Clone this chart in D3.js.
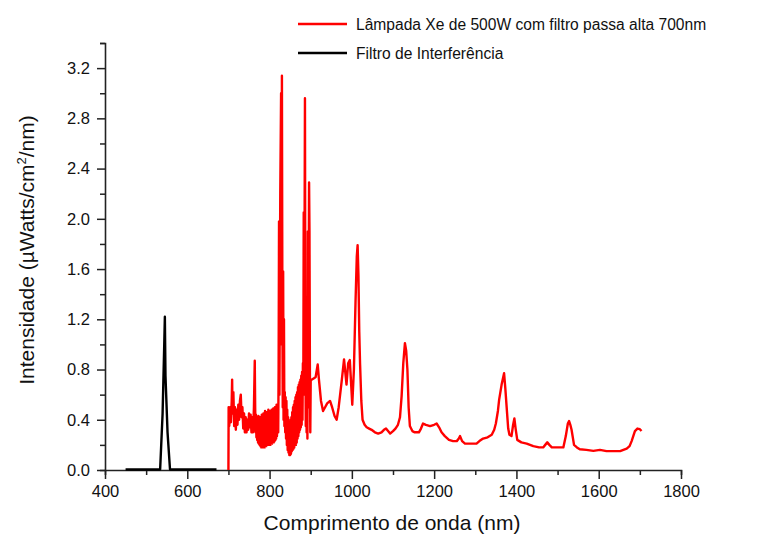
<!DOCTYPE html>
<html><head><meta charset="utf-8">
<script src="https://cdn.jsdelivr.net/npm/d3@7"></script>
<style>body{margin:0;background:#fff}svg{display:block;font-family:"Liberation Sans",Arial,sans-serif}</style>
</head><body>
<svg id="c" width="771" height="535"></svg>
<script>
const xTicks = [400, 600, 800, 1000, 1200, 1400, 1600, 1800];
const yTicks = [0.0, 0.4, 0.8, 1.2, 1.6, 2.0, 2.4, 2.8, 3.2];
const seriesNames = ["Lâmpada Xe de 500W com filtro passa alta 700nm", "Filtro de Interferência"];

const redNm = [
700,700.5,702,704,706,708,709,710,712,714,716,718,720,722,724,726,728,730,732,734,736,738,740,742,744,746,748,750,752,754,756,758,760,762,764,765,
766,767,768,769,770,771,772,773,774,775,776,777,778,779,780,781,782,783,784,785,786,787,788,789,790,791,792,793,794,795,796,797,798,799,800,801,802,803,804,805,806,807,808,809,810,811,812,813,814,815,816,817,818,819,820,
821,822,823,824,826,828,829,830,831,832,833,834,835,
836,837,838,839,840,841,842,843,844,845,846,847,848,849,850,851,852,853,854,855,856,857,858,859,860,861,862,863,864,865,866,867,868,869,870,871,872,873,874,875,876,877,878,879,880,881,882,
883,884,886,887,888,889,890,891,892,893,894,896,897,898,899,900,
903,908,912,917,920,925,930,935,940,947,952,958,963,968,975,981,984,987,991,995,998,1001,1005,1009,1012,1014,1016,1018,1020,1023,1026,1031,1036,1042,1048,1056,1064,1072,1078,1083,1088,1093,1100,1106,1112,1117,1121,1125,1129,1132,1135,1138,1141,1147,1153,1163,1168,1173,1180,1190,1200,1206,1212,1218,1226,1236,1246,1255,1260,1263,1268,1275,1290,1303,1310,1319,1330,1340,1346,1350,1355,1358,1364,1370,1373,1376,1380,1383,1388,1392,1395,1398,1402,1412,1425,1441,1455,1465,1470,1475,1480,1486,1500,1514,1520,1525,1528,1531,1534,1540,1547,1554,1570,1587,1603,1619,1640,1652,1668,1675,1680,1688,1694,1700,1704];
const redVal = [
0,0.5,0.35,0.5,0.38,0.55,0.72,0.45,0.62,0.35,0.5,0.32,0.48,0.36,0.52,0.4,0.55,0.6,0.42,0.5,0.33,0.45,0.3,0.42,0.3,0.4,0.32,0.45,0.34,0.44,0.3,0.42,0.3,0.5,0.87,0.5,
0.3,0.44,0.26,0.42,0.24,0.38,0.22,0.43,0.21,0.36,0.2,0.42,0.19,0.4,0.18,0.44,0.19,0.35,0.18,0.45,0.19,0.38,0.18,0.47,0.2,0.4,0.19,0.46,0.2,0.36,0.21,0.48,0.2,0.42,0.21,0.47,0.2,0.4,0.22,0.48,0.21,0.44,0.22,0.49,0.22,0.42,0.23,0.5,0.24,0.45,0.25,0.52,0.27,0.5,0.3,
0.3,0.8,1.98,0.6,2.2,3.0,1.0,3.14,1.5,0.5,1.58,0.4,1.2,
0.35,0.62,0.3,0.58,0.25,0.55,0.2,0.48,0.16,0.42,0.14,0.38,0.12,0.36,0.12,0.4,0.13,0.42,0.15,0.46,0.16,0.5,0.17,0.52,0.18,0.55,0.2,0.58,0.2,0.6,0.22,0.62,0.25,0.66,0.27,0.68,0.3,0.7,0.32,0.72,0.34,0.75,0.36,0.78,0.4,0.85,0.6,
2.05,0.6,2.96,1.0,0.35,1.2,0.3,0.9,0.25,1.9,0.5,2.29,1.9,0.8,0.3,0.72,
0.72,0.73,0.74,0.84,0.72,0.55,0.47,0.5,0.53,0.55,0.5,0.43,0.4,0.5,0.7,0.88,0.78,0.68,0.85,0.875,0.7,0.52,0.8,1.35,1.7,1.79,1.55,1.1,0.84,0.55,0.4,0.36,0.34,0.33,0.32,0.3,0.29,0.3,0.32,0.33,0.31,0.29,0.31,0.33,0.36,0.42,0.59,0.85,1.01,0.95,0.8,0.5,0.35,0.31,0.3,0.3,0.33,0.37,0.36,0.35,0.36,0.37,0.34,0.3,0.27,0.24,0.23,0.23,0.25,0.27,0.23,0.21,0.21,0.21,0.23,0.25,0.26,0.28,0.32,0.37,0.47,0.56,0.68,0.77,0.65,0.51,0.33,0.28,0.27,0.36,0.41,0.33,0.24,0.22,0.21,0.19,0.18,0.18,0.2,0.22,0.2,0.18,0.18,0.18,0.27,0.37,0.39,0.36,0.32,0.2,0.18,0.165,0.16,0.152,0.16,0.15,0.15,0.15,0.17,0.19,0.23,0.31,0.33,0.325,0.31];

const blackNm = [450,534,540,544,545.5,547,552,558,671];
const blackVal = [0.004,0.004,0.45,1.0,1.22,0.75,0.3,0.004,0.004];

const svg = d3.select("#c");
const x = d3.scaleLinear().domain([400, 1800]).range([105, 681]);
const y = d3.scaleLinear().domain([0, 3.4]).range([470, 43]);
const axisColor = "#222";
const tickFont = 16.5;

// X axis
const gx = svg.append("g").attr("transform", "translate(0,470)");
gx.call(d3.axisBottom(x).tickValues(d3.range(500, 1800, 200)).tickSize(5).tickFormat(""));
gx.append("g").call(d3.axisBottom(x).tickValues(xTicks).tickSize(9).tickPadding(6).tickFormat(d3.format("d")));
// Y axis
const gy = svg.append("g").attr("transform", "translate(105,0)");
gy.call(d3.axisLeft(y).tickValues(d3.range(0.2, 3.41, 0.4)).tickSize(5).tickFormat(""));
gy.append("g").call(d3.axisLeft(y).tickValues(yTicks).tickSize(8).tickPadding(7).tickFormat(d3.format(".1f")));

[gx, gy].forEach(g => {
  g.selectAll("g > g path.domain").remove();
  g.selectAll("path.domain").attr("stroke", axisColor).attr("stroke-width", 1.6);
  g.selectAll("line").attr("stroke", axisColor).attr("stroke-width", 1.5);
  g.selectAll("text").attr("font-size", tickFont).attr("fill", "#111").attr("font-family", "Liberation Sans, Arial, sans-serif");
});

// Lines
const line = d3.line().x(d => x(d[0])).y(d => y(d[1]));
svg.append("path").datum(blackNm.map((n, i) => [n, blackVal[i]]))
  .attr("d", line).attr("fill", "none").attr("stroke", "#000").attr("stroke-width", 2.4).attr("stroke-linejoin", "round");
svg.append("path").datum(redNm.map((n, i) => [n, redVal[i]]))
  .attr("d", line).attr("fill", "none").attr("stroke", "#f00").attr("stroke-width", 2.4).attr("stroke-linejoin", "round");

// Axis titles
svg.append("text").attr("x", 392).attr("y", 530).attr("text-anchor", "middle")
  .attr("font-size", 21).attr("fill", "#111").text("Comprimento de onda (nm)");
const yt = svg.append("text").attr("transform", "translate(34,250) rotate(-90)").attr("text-anchor", "middle")
  .attr("font-size", 21).attr("fill", "#111");
yt.append("tspan").text("Intensidade (µWatts/cm");
yt.append("tspan").attr("font-size", 13).attr("dy", -8).text("2");
yt.append("tspan").attr("dy", 8).text("/nm)");

// Legend
const legColors = ["#f00", "#000"];
const legY = [24, 53];
seriesNames.forEach((s, i) => {
  svg.append("line").attr("x1", 298).attr("x2", 347).attr("y1", legY[i]).attr("y2", legY[i])
    .attr("stroke", legColors[i]).attr("stroke-width", 2.4);
  svg.append("text").attr("x", 356).attr("y", legY[i] + 6).attr("font-size", 15.6).attr("fill", "#111").text(s);
});
</script>
</body></html>
